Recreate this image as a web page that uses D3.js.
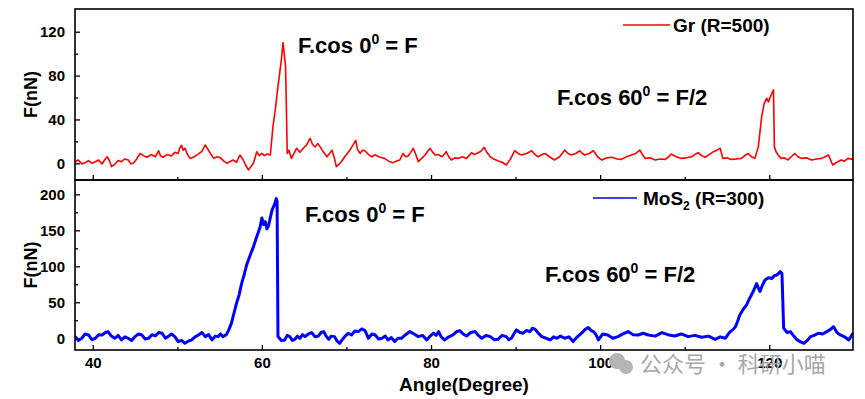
<!DOCTYPE html>
<html>
<head>
<meta charset="utf-8">
<script src="https://cdn.jsdelivr.net/npm/d3@7"></script>
<style>
  body { margin: 0; background: #fff; }
  text { font-family: Arial, "Liberation Sans", sans-serif; font-weight: bold; }
</style>
</head>
<body>
<div id="chart"></div>
<script>
// Gr (R=500), top panel
var grAngle = [37.9, 38.3, 38.7, 39.1, 39.5, 39.9, 40.3, 40.7, 41.1, 41.4, 41.7, 42.0, 42.2, 42.6, 43.0, 43.4, 43.8, 44.2,
  44.5, 44.8, 45.2, 45.6, 46.0, 46.4, 46.9, 47.4, 47.8, 48.0, 48.3, 48.8, 49.3, 49.7, 50.1, 50.3, 50.5, 50.7, 50.9, 51.2,
  51.5, 52.0, 52.4, 52.9, 53.3, 53.6, 54.0, 54.3, 54.7, 55.1, 55.5, 55.9, 56.2, 56.6, 57.0, 57.4, 57.8, 58.1, 58.4, 58.7,
  59.0, 59.4, 59.7, 60.0, 60.3, 60.6, 61.0, 61.3, 61.6, 61.9, 62.1, 62.3, 62.5, 62.7, 62.8, 63.0, 63.2, 63.5, 63.8, 64.1,
  64.5, 64.9, 65.3, 65.7, 66.0, 66.3, 66.6, 66.9, 67.3, 67.7, 68.0, 68.3, 68.6, 68.8, 69.1, 69.4, 69.8, 70.1, 70.4, 70.8,
  71.1, 71.3, 71.6, 71.9, 72.2, 72.6, 73.0, 73.4, 73.8, 74.2, 74.5, 75.0, 75.5, 75.9, 76.3, 76.7, 77.0, 77.3, 77.6, 77.9,
  78.2, 78.5, 78.9, 79.3, 79.6, 79.9, 80.2, 80.5, 80.9, 81.3, 81.8, 82.1, 82.4, 82.8, 83.2, 83.7, 84.2, 84.8, 85.1, 85.4,
  85.9, 86.3, 86.6, 87.0, 87.4, 87.9, 88.4, 88.9, 89.4, 89.9, 90.3, 90.7, 91.3, 91.9, 92.3, 92.7, 93.1, 93.5, 94.0, 94.6,
  95.2, 95.8, 96.2, 96.6, 97.1, 97.6, 97.9, 98.2, 98.7, 99.2, 99.7, 100.2, 100.8, 101.4, 102.0, 102.5, 103.1, 103.7,
  104.2, 104.7, 105.0, 105.3, 105.9, 106.5, 107.1, 107.7, 108.1, 108.4, 109.0, 109.6, 110.2, 110.8, 111.2, 111.6, 112.0,
  112.4, 112.9, 113.4, 113.8, 114.2, 114.5, 115.0, 115.5, 116.1, 116.7, 117.1, 117.5, 117.9, 118.3, 118.7, 119.1, 119.4,
  119.7, 119.9, 120.2, 120.5, 120.6, 120.8, 121.1, 121.4, 121.8, 122.2, 122.6, 123.0, 123.4, 123.8, 124.4, 125.0, 125.6,
  126.2, 126.6, 127.0, 127.5, 128.0, 128.5, 128.9, 129.3, 129.9];
var grForce = [1.5, 3, -0.5, 0.6, 2.5, 0, 1.5, 3, -0.6, 3, 6, 2, -3, -1, 2.5, 1.5, 4, 3,
  -0.5, 0, 4, 9, 7, 5.5, 8, 6, 11.5, 7, 5.5, 8, 6.7, 10, 9, 14, 16.5, 12, 13.7, 8,
  4.5, 6, 8, 11, 16.7, 13, 8, 4.5, 6, 5, 2, 0, 1.5, 3, 1, 7.6, 3, -2, -6, -3,
  0, 10.6, 7, 9, 7, 8.5, 7.6, 33, 50, 70, 82, 94, 110, 96, 88, 9, 12, 4.5, 9, 13.7,
  10, 13.7, 17, 22.8, 17, 15, 18, 15, 10, 6, 9, 12, 4, -3, -1, 1.5, 6, 9, 12, 17,
  21, 13, 9, 12, 11.5, 8, 6, 8, 6, 5, 4.5, 2, 0.6, 2, 3, 9, 6, 6.7, 10, 13.7,
  8, 1.5, 4.5, 7.6, 11, 13.7, 10, 7.6, 8, 6, 10.6, 6, 3, 5, 4.5, 6, 4.5, 9.7, 8, 9,
  11, 14.6, 10, 6, 4, 2.4, 1, -1.5, 4, 11.5, 9, 7.6, 9, 11.5, 8, 6, 8, 9, 6, 3,
  6, 12, 9, 7.6, 9, 11.5, 9, 7.6, 9, 11.5, 6, 3, 5, 5.5, 4, 3.6, 6, 7.6,
  9, 12, 8, 4.5, 5, 3, 4, 3.6, 6, 8.5, 6, 4.5, 5, 6, 8, 9.7, 7,
  5.5, 8, 10.6, 12, 13.7, 4.5, 5, 3.6, 4, 4.5, 7, 9, 6, 4.5, 15, 42.6, 54.7,
  59.3, 56, 62, 66.9, 15, 10.6, 7, 4.5, 5, 3, 6, 9, 6, 4.5, 5, 3, 4,
  4.5, 6, 7.6, -1.5, 1, 3, 2, 4.5, 3.6];

// MoS2 (R=300), bottom panel
var mosAngle = [37.9, 38.3, 38.7, 39.1, 39.5, 39.9, 40.3, 40.7, 41.1, 41.5, 41.8, 42.2, 42.6, 43.0, 43.4, 43.8, 44.2,
  44.6, 45.0, 45.4, 45.8, 46.2, 46.6, 47.0, 47.4, 47.8, 48.2, 48.6, 48.9, 49.3, 49.7, 50.1, 50.5, 50.9, 51.3, 51.7,
  52.1, 52.5, 52.9, 53.3, 53.7, 54.1, 54.5, 54.8, 55.1, 55.4, 55.8, 56.1, 56.4, 56.7, 57.0, 57.3, 57.6, 57.9, 58.2,
  58.6, 59.0, 59.3, 59.6, 59.8, 60.0, 60.2, 60.4, 60.6, 60.8, 61.0, 61.2, 61.5, 61.7, 61.8, 61.9, 62.3, 62.7, 63.0,
  63.3, 63.6, 63.9, 64.2, 64.5, 64.8, 65.1, 65.5, 65.9, 66.3, 66.7, 67.0, 67.3, 67.6, 67.9, 68.2, 68.6, 68.9, 69.2,
  69.5, 69.8, 70.2, 70.6, 71.0, 71.4, 71.8, 72.2, 72.6, 73.0, 73.4, 73.8, 74.2, 74.6, 74.9, 75.3, 75.7, 76.1, 76.5,
  77.0, 77.5, 78.0, 78.5, 79.0, 79.5, 79.9, 80.3, 80.6, 80.9, 81.2, 81.6, 82.1, 82.6, 83.0, 83.4, 83.8, 84.2, 84.7,
  85.2, 85.6, 86.0, 86.5, 87.0, 87.5, 87.9, 88.4, 88.9, 89.2, 89.5, 89.8, 90.1, 90.5, 90.9, 91.3, 91.7, 92.0, 92.3,
  92.7, 93.1, 93.6, 94.1, 94.5, 94.9, 95.3, 95.8, 96.3, 96.8, 97.3, 97.8, 98.2, 98.6, 98.9, 99.2, 99.5, 99.8, 100.3,
  100.9, 101.5, 102.1, 102.7, 103.3, 103.9, 104.5, 105.1, 105.7, 106.5, 107.3, 108.0, 108.8, 109.6, 110.4, 111.2,
  112.0, 112.8, 113.6, 114.2, 114.8, 115.1, 115.4, 115.7, 116.0, 116.3, 116.5, 116.9, 117.3, 117.7, 118.1, 118.5,
  118.7, 118.9, 119.2, 119.5, 119.9, 120.3, 120.6, 120.9, 121.1, 121.3, 121.5, 121.7, 122.1, 122.5, 122.9, 123.3,
  123.7, 124.1, 124.5, 124.9, 125.3, 125.8, 126.3, 126.8, 127.2, 127.6, 128.0, 128.4, 128.9, 129.4, 129.9];
var mosForce = [2.3, -3, 0, 6, 4.6, -2, 0, 5, 4.6, 8, 9.3, 3, 0, 4, -2.3, 2, 0,
  -3, 2.3, 6, 4.6, -1, 0, 5, 3.2, 8, 7, 0, 2.3, 6, 2.3, -4.6, -3, -7, -4, -2.3,
  2, 4.6, 8, 2.3, 5, -2.3, 3, 2.3, 6, 2.3, 5, 12, 21, 35, 48.6, 60, 76, 88, 102,
  115, 127, 138, 148, 155, 167, 158, 162, 152, 157, 168, 178, 186, 194, 190, 2.3, -3, -2.3, 4,
  2.3, -3, -1.4, 3, 0, 5, 2.3, 6, 7.9, 2, 3.2, 8, 9.3, 3, -1.4, 3, 2.3, -4, -7,
  -2, 2.3, 7, 4.6, 10, 9.3, 13, 10.6, 0, 6, 4.6, -1, 0, 3, -2.3, 1, -4.6, 0, 0,
  5, 9.3, 6, 2.3, 4, -2.3, 3, 7, 4, 9.3, 2, -2.3, 2, 4.6, 9, 10.6, 6, 3.2, 8,
  9.3, 4, 0, 4, 2.3, -2, -1.4, 4, 2.3, -2, 0, 6, 11.6, 8, 7, 11, 9.3, 14, 12.5,
  7, 2.3, 0, -2.3, 2, 0, 3, 0, 2, -4.6, 2, 7, 12, 15, 11, 9.3, 5, -2.3, 6,
  4.6, 0, 2.3, 6, 9.3, 5, 4.6, 7, 4.6, 3, 7.9, 5, 3.2, 6, 2.3, 4,
  1.4, 3, -1.4, 2, 0, 5, 9.3, 12, 16, 25, 32, 40, 46, 56, 65, 76,
  70, 65, 74, 81, 84, 83, 87, 88, 90, 92.6, 90, 14, 8, 9.3, 3, -2.3,
  -5, -7, -3, 2.3, 4, 7, 6, 9.3, 12, 16, 8, 4.6, 2, -2.3, 7];

var xMajor = [40, 60, 80, 100, 120];
var xMinor = [50, 70, 90, 110];
var grMajor = [0, 40, 80, 120];
var grMinor = [20, 60, 100];
var mosMajor = [0, 50, 100, 150, 200];
var mosMinor = [25, 75, 125, 175];

var width = 865, height = 399;
var left = 75, right = 853;
var top1 = 9, bot1 = 180, top2 = 180, bot2 = 350;

var svg = d3.select("#chart").append("svg")
  .attr("width", width)
  .attr("height", height);

var x = d3.scaleLinear().domain([37.9, 129.9]).range([left, right]);
var y1 = d3.scaleLinear().domain([-15.2, 140.7]).range([bot1, top1]);
var y2 = d3.scaleLinear().domain([-16.3, 219.9]).range([bot2, top2]);

function panel(yScale, yBot, major, minor, showX) {
  var g = svg.append("g");
  // x ticks point inward
  g.append("g")
    .attr("transform", "translate(0," + yBot + ")")
    .call(d3.axisBottom(x).tickValues(xMajor).tickSize(-5).tickPadding(7).tickFormat(showX ? d3.format("d") : ""))
    .call(function(a) { a.select(".domain").remove(); });
  g.append("g")
    .attr("transform", "translate(0," + yBot + ")")
    .call(d3.axisBottom(x).tickValues(xMinor).tickSize(-3).tickFormat(""))
    .call(function(a) { a.select(".domain").remove(); });
  // y ticks
  g.append("g")
    .attr("transform", "translate(" + left + ",0)")
    .call(d3.axisLeft(yScale).tickValues(major).tickSize(-5).tickPadding(10))
    .call(function(a) { a.select(".domain").remove(); });
  g.append("g")
    .attr("transform", "translate(" + left + ",0)")
    .call(d3.axisLeft(yScale).tickValues(minor).tickSize(-3).tickFormat(""))
    .call(function(a) { a.select(".domain").remove(); });
  g.selectAll(".tick line").attr("stroke", "#000").attr("stroke-width", 1.3);
  g.selectAll(".tick text")
    .attr("fill", "#000")
    .style("font-size", "15px")
    .style("font-weight", "bold");
  return g;
}

panel(y1, bot1, grMajor, grMinor, false);
panel(y2, bot2, mosMajor, mosMinor, true);

// clip each panel
svg.append("clipPath").attr("id", "c1").append("rect")
  .attr("x", left).attr("y", top1).attr("width", right - left).attr("height", bot1 - top1);
svg.append("clipPath").attr("id", "c2").append("rect")
  .attr("x", left).attr("y", top2).attr("width", right - left).attr("height", bot2 - top2);

var grLine = d3.line().x(function(d, i) { return x(grAngle[i]); }).y(function(d) { return y1(d); });
var mosLine = d3.line().x(function(d, i) { return x(mosAngle[i]); }).y(function(d) { return y2(d); });

svg.append("path")
  .datum(grForce)
  .attr("clip-path", "url(#c1)")
  .attr("d", grLine)
  .attr("fill", "none")
  .attr("stroke", "#ff0000")
  .attr("stroke-width", 1.6)
  .attr("stroke-linejoin", "round");

svg.append("path")
  .datum(mosForce)
  .attr("clip-path", "url(#c2)")
  .attr("d", mosLine)
  .attr("fill", "none")
  .attr("stroke", "#0000ff")
  .attr("stroke-width", 3)
  .attr("stroke-linejoin", "round");

// frames
svg.append("rect").attr("x", left).attr("y", top1).attr("width", right - left).attr("height", bot1 - top1)
  .attr("fill", "none").attr("stroke", "#000").attr("stroke-width", 1.6);
svg.append("rect").attr("x", left).attr("y", top2).attr("width", right - left).attr("height", bot2 - top2)
  .attr("fill", "none").attr("stroke", "#000").attr("stroke-width", 1.6);

// axis labels
svg.append("text")
  .attr("transform", "translate(37," + ((top1 + bot1) / 2) + ") rotate(-90)")
  .attr("text-anchor", "middle")
  .style("font-size", "18px")
  .text("F(nN)");
svg.append("text")
  .attr("transform", "translate(37," + ((top2 + bot2) / 2) + ") rotate(-90)")
  .attr("text-anchor", "middle")
  .style("font-size", "18px")
  .text("F(nN)");
svg.append("text")
  .attr("x", 464).attr("y", 391)
  .attr("text-anchor", "middle")
  .style("font-size", "19px")
  .text("Angle(Degree)");

// annotations
function formula(xp, yp, deg, rhs) {
  var t = svg.append("text").attr("x", xp).attr("y", yp).style("font-size", "22px");
  t.append("tspan").text("F.cos " + deg);
  t.append("tspan").attr("dy", -9).style("font-size", "14px").text("0");
  t.append("tspan").attr("dy", 9).text(" = " + rhs);
}
formula(298, 53, "0", "F");
formula(557, 105, "60", "F/2");
formula(305, 222, "0", "F");
formula(545, 282, "60", "F/2");

// legends
svg.append("line").attr("x1", 623).attr("x2", 670).attr("y1", 25).attr("y2", 25)
  .attr("stroke", "#ff0000").attr("stroke-width", 1.6);
svg.append("text").attr("x", 673).attr("y", 32).style("font-size", "19px").text("Gr (R=500)");

svg.append("line").attr("x1", 593).attr("x2", 637).attr("y1", 198).attr("y2", 198)
  .attr("stroke", "#0000ff").attr("stroke-width", 1.6);
var lt = svg.append("text").attr("x", 643).attr("y", 205).style("font-size", "19px");
lt.append("tspan").text("MoS");
lt.append("tspan").attr("dy", 5).style("font-size", "12px").text("2");
lt.append("tspan").attr("dy", -5).text(" (R=300)");

// watermark
var wm = svg.append("g").attr("fill", "#b4b4b4");
wm.append("circle").attr("cx", 617).attr("cy", 361).attr("r", 8);
wm.append("circle").attr("cx", 626).attr("cy", 367).attr("r", 7);
svg.append("text").attr("x", 640).attr("y", 372)
  .attr("fill", "#a8a8a8")
  .style("font-family", "'Noto Sans CJK SC', sans-serif")
  .style("font-weight", "normal")
  .style("font-size", "22px")
  .text("公众号 · 科研小喵");
</script>
</body>
</html>
